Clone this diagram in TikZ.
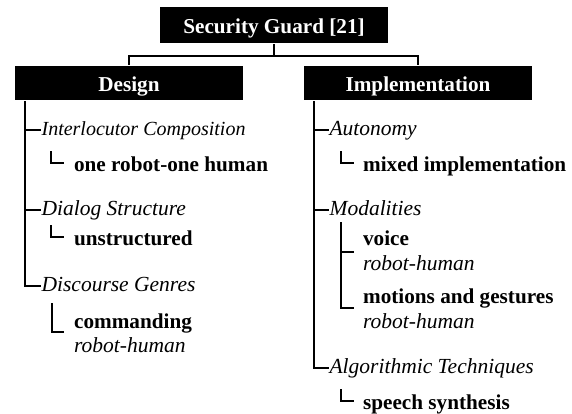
\documentclass[tikz,border=0pt]{standalone}
\usepackage{fontspec}
\setmainfont{Liberation Serif}
\begin{document}
\begin{tikzpicture}[x=1pt,y=-1pt,
  line width=2.2pt,
  hbox/.style={fill=black,text=white,inner sep=0pt,minimum width=228pt,
    font=\fontsize{21.2}{25}\selectfont\bfseries,text height=17pt,text depth=1pt},
  cat/.style={anchor=base west,inner sep=0pt,font=\fontsize{21.5}{25}\selectfont\itshape,
    text height=14pt,text depth=4pt},
  leaf/.style={anchor=base west,inner sep=0pt,font=\fontsize{21.2}{25}\selectfont\bfseries,
    text height=14pt,text depth=4pt},
  who/.style={anchor=base west,inner sep=0pt,font=\fontsize{21.5}{25}\selectfont\itshape}]
\useasboundingbox (0,0) rectangle (572,413);

% header boxes
\node[hbox,minimum height=36pt] (top) at (274,25) {Security Guard [21]};
\node[hbox,minimum height=34pt] (design) at (129,83) {Design};
\node[hbox,minimum height=34pt] (impl) at (418,83) {Implementation};

\coordinate (j) at ([yshift=-12pt]top.south);
\draw (top.south) -- (j);
\draw (design.north) |- (j) -| (impl.north);

% Design column
\node[cat,font=\fontsize{20}{24}\selectfont\itshape] (ic) at (40.5,135) {Interlocutor Composition};
\node[leaf] (orh) at (73,171) {one robot-one human};
\node[cat] (ds) at (40.5,215) {Dialog Structure};
\node[leaf] (uns) at (73,245) {unstructured};
\node[cat] (dg) at (40.5,291) {Discourse Genres};
\node[leaf] (cmd) at (73,328) {commanding};
\node[who] (cmdw) at (73,352) {robot-human};

\coordinate (dsp) at ([xshift=11pt]design.south west);
\draw (dsp) |- (dg.west);
\draw (ic.west -| dsp) -- (ic.west);
\draw (ds.west -| dsp) -- (ds.west);
\draw ([shift={(-22pt,15pt)}]orh.west) |- ([shift={(-9pt,3pt)}]orh.west);
\draw ([shift={(-22pt,15pt)}]uns.west) |- ([shift={(-9pt,3pt)}]uns.west);
\draw ([shift={(-21pt,20pt)}]cmd.west) |- ([shift={(-9pt,-9pt)}]cmd.west);

% Implementation column
\node[cat] (aut) at (328.5,135) {Autonomy};
\node[leaf] (mix) at (362,171) {mixed implementation};
\node[cat] (mod) at (328.5,215) {Modalities};
\node[leaf] (voice) at (362,245) {voice};
\node[who] (voicew) at (362,270) {robot-human};
\node[leaf] (mot) at (362,303) {motions and gestures};
\node[who] (motw) at (362,328) {robot-human};
\node[cat] (alg) at (328.5,373) {Algorithmic Techniques};
\node[leaf] (sps) at (362,409) {speech synthesis};

\coordinate (isp) at ([xshift=11pt]impl.south west);
\draw (isp) |- (alg.west);
\draw (aut.west -| isp) -- (aut.west);
\draw (mod.west -| isp) -- (mod.west);
\draw ([shift={(-21pt,15pt)}]mix.west) |- ([shift={(-8pt,3pt)}]mix.west);
\draw ([shift={(-21pt,18pt)}]voice.west) |- ([shift={(-8pt,-10pt)}]mot.west);
\draw ([shift={(-21pt,-12pt)}]voice.west) -- ([shift={(-8pt,-12pt)}]voice.west);
\draw ([shift={(-21pt,15pt)}]sps.west) |- ([shift={(-8pt,3pt)}]sps.west);
\end{tikzpicture}
\end{document}
